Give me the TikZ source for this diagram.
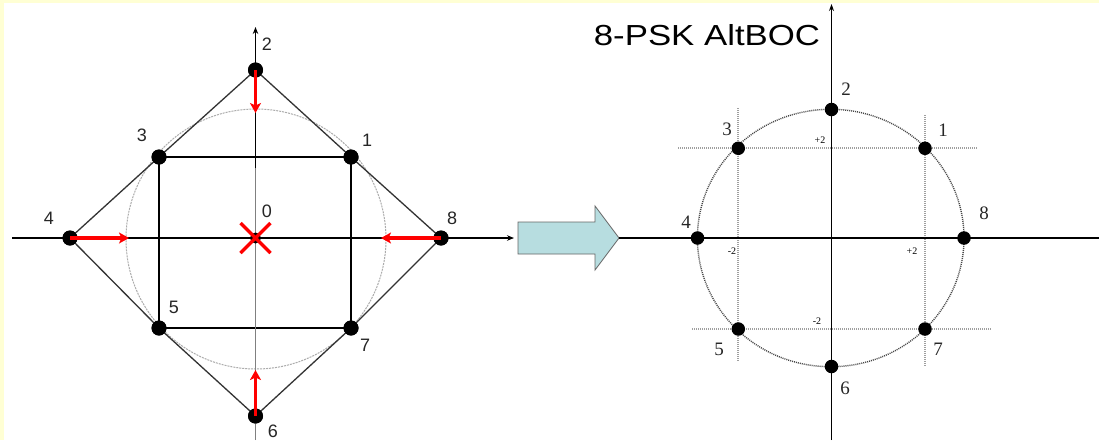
\documentclass[tikz,border=0pt]{standalone}
\usepackage{fontspec}
\usepackage{graphicx}
\setmainfont{Liberation Serif}
\newfontfamily\arialf{Liberation Sans}
\usetikzlibrary{arrows.meta,calc}
\definecolor{bgyellow}{HTML}{FFFFD4}
\definecolor{arrowblue}{HTML}{B7DDE0}
\definecolor{diagray}{HTML}{333333}
\begin{document}
\begin{tikzpicture}[x=1pt,y=-1pt,
  dotL/.style={circle,fill=black,inner sep=0pt,minimum size=15pt},
  dotR/.style={circle,fill=black,inner sep=0pt,minimum size=13.5pt},
  labL/.style={font=\arialf\fontsize{18}{18}\selectfont,inner sep=0pt,text=black!85},
  labR/.style={font=\fontsize{19}{19}\selectfont,inner sep=0pt,text=black!85},
  ticklab/.style={font=\fontsize{10}{10}\selectfont,inner sep=0pt},
  axisarrow/.style={line width=1.3pt,-{Stealth[length=7pt,width=5.5pt]}},
  plainaxis/.style={line width=1.6pt},
  redarrow/.style={red,line width=3.5pt,-{Stealth[length=10pt,width=11pt,inset=2.5pt]}},
  rededge/.style={red,line width=3.5pt},
  diaedge/.style={diagray,line width=1.3pt},
  sqedge/.style={black,line width=1.3pt},
  gridline/.style={gray!75,line width=2pt,dash pattern=on 1pt off 1pt},
  bigarrowstyle/.style={fill=arrowblue,draw=gray!80!black,line width=0.8pt,line join=miter}
]
\useasboundingbox (0,0) rectangle (1099,440);
\fill[bgyellow] (0,0) rectangle (1099,440);
\fill[white] (4,3) rectangle (1099,440);

% ---------- left diagram ----------
\draw[gray!65,line width=1pt,dash pattern=on 2pt off 1pt] (256,239) circle[radius=130];

\coordinate (LO) at (255.5,238);
\node[dotL] (L2) at (255.5,70) {};
\node[dotL] (L1) at (351,157) {};
\node[dotL] (L3) at (159,157) {};
\node[dotL] (L4) at (70,238) {};
\node[dotL] (L8) at (441,238) {};
\node[dotL] (L5) at (159,328) {};
\node[dotL] (L7) at (351,328) {};
\node[dotL] (L6) at (255.5,416) {};

\draw[diaedge] (L2.center) -- (L1.center) -- (L8.center) -- (L7.center) -- (L6.center) -- (L5.center) -- (L4.center) -- (L3.center) -- cycle;
\draw[sqedge] (L3.center) -- (L1.center) -- (L7.center) -- (L5.center) -- cycle;

\coordinate (LxL) at (12,238);
\coordinate (LxR) at (514,238);
\coordinate (LyT) at (255.5,27);
\coordinate (LyM) at (255.5,168);
\coordinate (LyB) at (255.5,440);
\draw[axisarrow] (LxL) -- (LxR);
\draw[gray,line width=1.2pt] (LyB) -- (LyM);
\draw[axisarrow] (LyM) -- (LyT);

\foreach \n in {L1,L2,L3,L4,L5,L6,L7,L8} \node[dotL] at (\n) {};

\node[circle,fill=black,inner sep=0pt,minimum size=11pt] (L0) at (LO) {};

\coordinate (a2) at (255.5,113);
\coordinate (a4) at (129,238);
\coordinate (a8) at (381,238);
\coordinate (a6) at (255.5,370);
\draw[redarrow] (L2.center) -- (a2);
\draw[redarrow] (L4.center) -- (a4);
\draw[redarrow] (L8.center) -- (a8);
\draw[redarrow] (L6.center) -- (a6);

\draw[rededge] ($(L0)+(-15,-15)$) -- ($(L0)+(15,15)$);
\draw[rededge] ($(L0)+(15,-15)$) -- ($(L0)+(-15,15)$);

\node[labL] (tL2) at (267,44) {2};
\node[labL] (tL1) at (367,140) {1};
\node[labL] (tL3) at (142,135) {3};
\node[labL] (tL4) at (49,218) {4};
\node[labL] (tL8) at (452,218) {8};
\node[labL] (tL0) at (267,211) {0};
\node[labL] (tL5) at (174,307) {5};
\node[labL] (tL7) at (365,345) {7};
\node[labL] (tL6) at (273,431) {6};

% ---------- big arrow ----------
\draw[bigarrowstyle] (518,222) -- (595,222) -- (595,206) -- (619,238) -- (595,270) -- (595,254) -- (518,254) -- cycle;
\coordinate (btip) at (619,238);

% ---------- right diagram ----------
\node[font=\arialf\fontsize{29}{29}\selectfont,inner sep=0pt] (title) at (707,35) {\scalebox{1.2}[1]{8-PSK AltBOC}};

\draw[gray!55!black,line width=1.4pt,dash pattern=on 1pt off 1pt] (830.7,238) ellipse[x radius=133.3,y radius=128.7];

\coordinate (g1a) at (738.3,108);  \coordinate (g1b) at (738.3,362);
\coordinate (g2a) at (925,115);    \coordinate (g2b) at (925,367);
\coordinate (g3a) at (678,148.3);  \coordinate (g3b) at (978,148.3);
\coordinate (g4a) at (692,329);    \coordinate (g4b) at (991,329);
\draw[gridline] (g1a) -- (g1b);
\draw[gridline] (g2a) -- (g2b);
\draw[gridline] (g3a) -- (g3b);
\draw[gridline] (g4a) -- (g4b);

\coordinate (RxR) at (1099,238);
\coordinate (RyT) at (831.5,4);
\coordinate (RyB) at (831.5,440);
\draw[plainaxis] (btip) -- (RxR);
\draw[plainaxis,-{Stealth[length=7pt,width=5pt]}] (RyB) -- (RyT);

\node[dotR] (R2) at (831.5,109.5) {};
\node[dotR] (R1) at (925,148.3) {};
\node[dotR] (R3) at (738.3,148.3) {};
\node[dotR] (R4) at (697.5,238) {};
\node[dotR] (R8) at (964,238) {};
\node[dotR] (R5) at (738.3,329) {};
\node[dotR] (R7) at (925,329) {};
\node[dotR] (R6) at (831.5,366.5) {};

\node[labR] (tR2) at (846,89) {2};
\node[labR] (tR1) at (943,130) {1};
\node[labR] (tR3) at (727,129) {3};
\node[labR] (tR4) at (686,222) {4};
\node[labR] (tR8) at (984,213) {8};
\node[labR] (tR5) at (719,349) {5};
\node[labR] (tR7) at (938,349) {7};
\node[labR] (tR6) at (845,388) {6};

\node[ticklab] (k1) at (820,140) {+2};
\node[ticklab] (k2) at (732,251) {-2};
\node[ticklab] (k3) at (912,251) {+2};
\node[ticklab] (k4) at (817,321) {-2};
\end{tikzpicture}
\end{document}
